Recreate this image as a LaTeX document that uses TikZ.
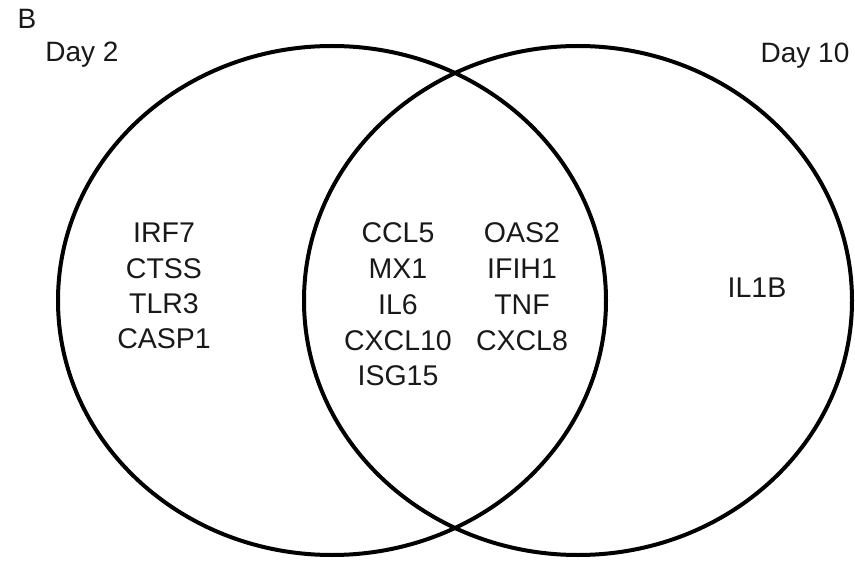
\documentclass[tikz,border=0pt]{standalone}
\usepackage{fontspec}
\setmainfont{Liberation Sans}
\begin{document}
\begin{tikzpicture}[x=1pt,y=-1pt,
  ring/.style={line width=4pt, draw=black},
  gene/.style={anchor=base, inner sep=0pt, text=black!90, font=\fontsize{28.5}{34}\selectfont},
  lab/.style={anchor=base, inner sep=0pt, text=black!90, font=\fontsize{28}{34}\selectfont}]
\useasboundingbox (0,0) rectangle (855,567);
\draw[ring] (332,300.5) ellipse [x radius=274pt, y radius=254.5pt];
\draw[ring] (578,300.5) ellipse [x radius=274pt, y radius=254.5pt];
\node[lab] (B) at (27,29) {B};
\node[lab] (d2) at (82,62) {Day 2};
\node[lab] (d10) at (805,63) {Day 10};
% left only
\node[gene] (irf7) at (164,243) {IRF7};
\node[gene] (ctss) at (164,278) {CTSS};
\node[gene] (tlr3) at (164,313) {TLR3};
\node[gene] (casp1) at (164,348) {CASP1};
% intersection, left column
\node[gene] (ccl5) at (398,243) {CCL5};
\node[gene] (mx1) at (398,279) {MX1};
\node[gene] (il6) at (398,314) {IL6};
\node[gene] (cxcl10) at (398,350) {CXCL10};
\node[gene] (isg15) at (398,385) {ISG15};
% intersection, right column
\node[gene] (oas2) at (522,243) {OAS2};
\node[gene] (ifih1) at (522,279) {IFIH1};
\node[gene] (tnf) at (522,314) {TNF};
\node[gene] (cxcl8) at (522,350) {CXCL8};
% right only
\node[gene] (il1b) at (757,297) {IL1B};
\end{tikzpicture}
\end{document}
